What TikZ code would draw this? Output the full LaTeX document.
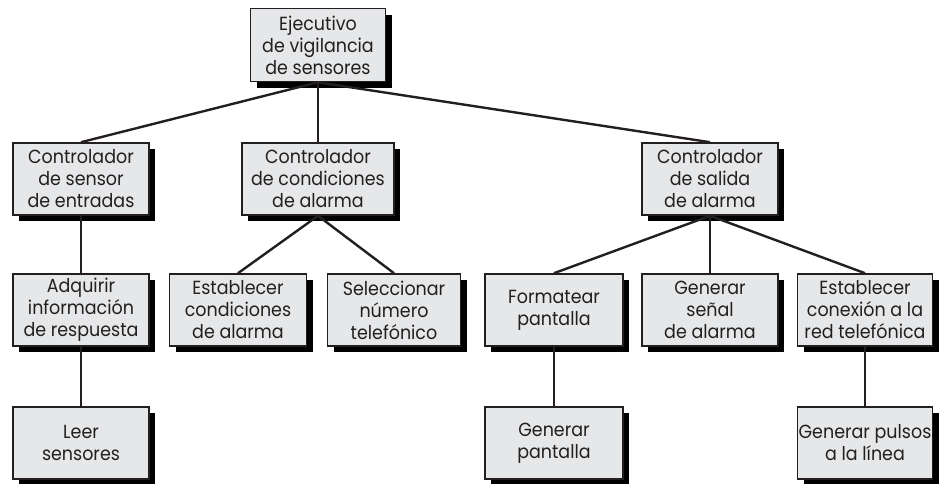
\documentclass[tikz,border=0pt]{standalone}
\usepackage{fontspec}
\setmainfont{Poppins}[FakeStretch=0.92]
\usetikzlibrary{shadows}
\definecolor{boxfill}{HTML}{E6E7E8}
\definecolor{ink}{HTML}{231F20}
\begin{document}
\begin{tikzpicture}[x=1pt,y=-1pt,
  modbox/.style={draw=ink, line width=1.6pt, fill=boxfill, text=ink,
    minimum width=136pt, minimum height=72pt, inner sep=0pt, align=center,
    font=\fontsize{19}{22}\selectfont,
    drop shadow={shadow xshift=6pt, shadow yshift=-6pt, opacity=1, fill=black}},
  link/.style={draw=ink, line width=2.4pt}]
\useasboundingbox (0,0) rectangle (939,483);
% nodes
\node[modbox, minimum width=135pt, minimum height=73pt] (top) at (318,45) {Ejecutivo\\de vigilancia\\de sensores};
\node[modbox] (cse) at (81,179) {Controlador\\de sensor\\de entradas};
\node[modbox, minimum width=152pt] (cca) at (318,179) {Controlador\\de condiciones\\de alarma};
\node[modbox] (csa) at (710,179) {Controlador\\de salida\\de alarma};
\node[modbox] (adq) at (81,310) {Adquirir\\información\\de respuesta};
\node[modbox, minimum width=137pt] (eca) at (238,310) {Establecer\\condiciones\\de alarma};
\node[modbox, minimum width=133pt] (snt) at (394,310) {Seleccionar\\número\\telefónico};
\node[modbox, minimum width=138pt] (fpa) at (554,310) {Formatear\\pantalla};
\node[modbox] (gsa) at (710,310) {Generar\\señal\\de alarma};
\node[modbox, minimum width=135pt] (ecr) at (865,310) {Establecer\\conexión a la\\red telefónica};
\node[modbox] (lse) at (81,443) {Leer\\sensores};
\node[modbox, minimum width=138pt] (gpa) at (554,443) {Generar\\pantalla};
\node[modbox, minimum width=135pt] (gpl) at (865,443) {Generar pulsos\\a la línea};
% connectors
\draw[link] (top.south) -- (cse.north);
\draw[link] (top.south) -- (cca.north);
\draw[link] (top.south) -- (csa.north);
\draw[link] (cse.south) -- (adq.north);
\draw[link] (adq.south) -- (lse.north);
\draw[link] (cca.south) -- (eca.north);
\draw[link] (cca.south) -- (snt.north);
\draw[link] (csa.south) -- (fpa.north);
\draw[link] (csa.south) -- (gsa.north);
\draw[link] (csa.south) -- (ecr.north);
\draw[link] (fpa.south) -- (gpa.north);
\draw[link] (ecr.south) -- (gpl.north);
\end{tikzpicture}
\end{document}
